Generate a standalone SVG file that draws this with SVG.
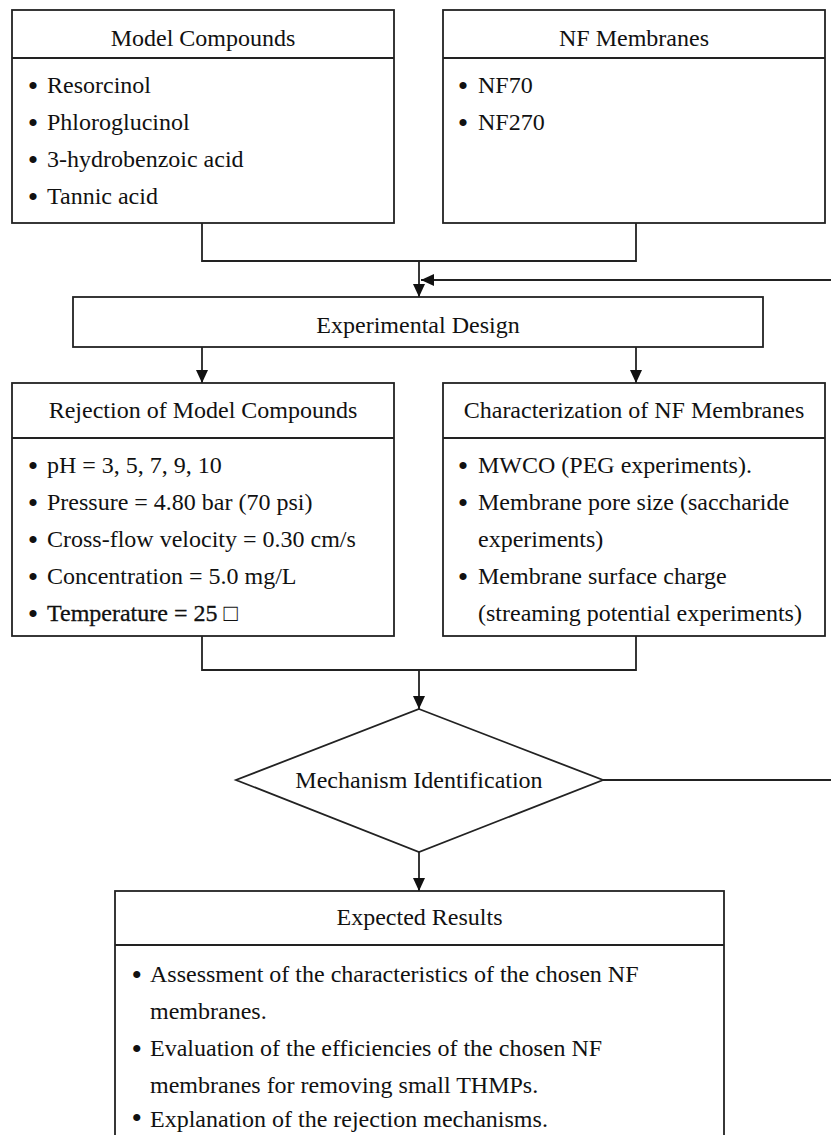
<svg xmlns="http://www.w3.org/2000/svg" width="831" height="1135" viewBox="0 0 831 1135">
<style>
.box{fill:#fff;stroke:#222;stroke-width:1.8}
.div{stroke:#222;stroke-width:1.8}
.t{font-family:"Liberation Serif","Times New Roman",serif;font-size:24px;fill:#111}
.c{text-anchor:middle}
.b{font-size:30px}
.ln{fill:none;stroke:#222;stroke-width:1.8}
</style>
<defs>
<marker id="ah" markerUnits="userSpaceOnUse" markerWidth="13" markerHeight="12" refX="13" refY="6" orient="auto">
<path d="M0,0 L13,6 L0,12 z" fill="#111"/>
</marker>
</defs>
<rect width="831" height="1135" fill="#fff"/>

<g id="connectors">
<path class="ln" d="M202,223 V261 H636 V223"/>
<path class="ln" d="M419,261 V297" marker-end="url(#ah)"/>
<path class="ln" d="M603,780 H845 V280 H421" marker-end="url(#ah)"/>
<path class="ln" d="M202,347 V383" marker-end="url(#ah)"/>
<path class="ln" d="M636,347 V383" marker-end="url(#ah)"/>
<path class="ln" d="M202,636 V670 H636 V636"/>
<path class="ln" d="M419,670 V709" marker-end="url(#ah)"/>
<path class="ln" d="M419,852 V891" marker-end="url(#ah)"/>
</g>

<g id="model-compounds">
<rect class="box" x="12" y="10" width="382" height="213"/>
<line class="div" x1="12" y1="58" x2="394" y2="58"/>
<text class="t c" x="203" y="46">Model Compounds</text>
<text class="t" y="93"><tspan class="b" x="27.7" dy="3">•</tspan><tspan x="47" dy="-3">Resorcinol</tspan></text>
<text class="t" y="130"><tspan class="b" x="27.7" dy="3">•</tspan><tspan x="47" dy="-3">Phloroglucinol</tspan></text>
<text class="t" y="167"><tspan class="b" x="27.7" dy="3">•</tspan><tspan x="47" dy="-3">3-hydrobenzoic acid</tspan></text>
<text class="t" y="204"><tspan class="b" x="27.7" dy="3">•</tspan><tspan x="47" dy="-3">Tannic acid</tspan></text>
</g>

<g id="nf-membranes">
<rect class="box" x="443" y="10" width="382" height="213"/>
<line class="div" x1="443" y1="58" x2="825" y2="58"/>
<text class="t c" x="634" y="46">NF Membranes</text>
<text class="t" y="93"><tspan class="b" x="457.7" dy="3">•</tspan><tspan x="478" dy="-3">NF70</tspan></text>
<text class="t" y="130"><tspan class="b" x="457.7" dy="3">•</tspan><tspan x="478" dy="-3">NF270</tspan></text>
</g>

<g id="experimental-design">
<rect class="box" x="73" y="297" width="690" height="50"/>
<text class="t c" x="418" y="333">Experimental Design</text>
</g>

<g id="rejection">
<rect class="box" x="12" y="383" width="382" height="253"/>
<line class="div" x1="12" y1="438" x2="394" y2="438"/>
<text class="t c" x="203" y="418">Rejection of Model Compounds</text>
<text class="t" y="473"><tspan class="b" x="27.7" dy="3">•</tspan><tspan x="47" dy="-3">pH = 3, 5, 7, 9, 10</tspan></text>
<text class="t" y="510"><tspan class="b" x="27.7" dy="3">•</tspan><tspan x="47" dy="-3">Pressure = 4.80 bar (70 psi)</tspan></text>
<text class="t" y="547"><tspan class="b" x="27.7" dy="3">•</tspan><tspan x="47" dy="-3">Cross-flow velocity = 0.30 cm/s</tspan></text>
<text class="t" y="584"><tspan class="b" x="27.7" dy="3">•</tspan><tspan x="47" dy="-3">Concentration = 5.0 mg/L</tspan></text>
<text class="t" y="621"><tspan class="b" x="27.7" dy="3">•</tspan><tspan x="47" dy="-3" stroke="#111" stroke-width="0.3">Temperature = 25</tspan><tspan> □</tspan></text>
</g>

<g id="characterization">
<rect class="box" x="443" y="383" width="382" height="253"/>
<line class="div" x1="443" y1="438" x2="825" y2="438"/>
<text class="t c" x="634" y="418">Characterization of NF Membranes</text>
<text class="t" y="473"><tspan class="b" x="457.7" dy="3">•</tspan><tspan x="478" dy="-3">MWCO (PEG experiments).</tspan></text>
<text class="t" y="510"><tspan class="b" x="457.7" dy="3">•</tspan><tspan x="478" dy="-3">Membrane pore size (saccharide</tspan></text>
<text class="t" x="478" y="547">experiments)</text>
<text class="t" y="584"><tspan class="b" x="457.7" dy="3">•</tspan><tspan x="478" dy="-3">Membrane surface charge</tspan></text>
<text class="t" x="478" y="621">(streaming potential experiments)</text>
</g>

<g id="mechanism">
<polygon class="box" points="419,709 603,780 419,852 236,780"/>
<text class="t c" x="419" y="788">Mechanism Identification</text>
</g>

<g id="expected-results">
<rect class="box" x="115" y="891" width="609" height="260"/>
<line class="div" x1="115" y1="945" x2="724" y2="945"/>
<text class="t c" x="419.5" y="925">Expected Results</text>
<text class="t" y="982"><tspan class="b" x="131.5" dy="3">•</tspan><tspan x="150" dy="-3">Assessment of the characteristics of the chosen NF</tspan></text>
<text class="t" x="150" y="1019">membranes.</text>
<text class="t" y="1056"><tspan class="b" x="131.5" dy="3">•</tspan><tspan x="150" dy="-3">Evaluation of the efficiencies of the chosen NF</tspan></text>
<text class="t" x="150" y="1093">membranes for removing small THMPs.</text>
<text class="t" y="1127"><tspan class="b" x="131.5" dy="1">•</tspan><tspan x="150" dy="-1">Explanation of the rejection mechanisms.</tspan></text>
</g>
</svg>
